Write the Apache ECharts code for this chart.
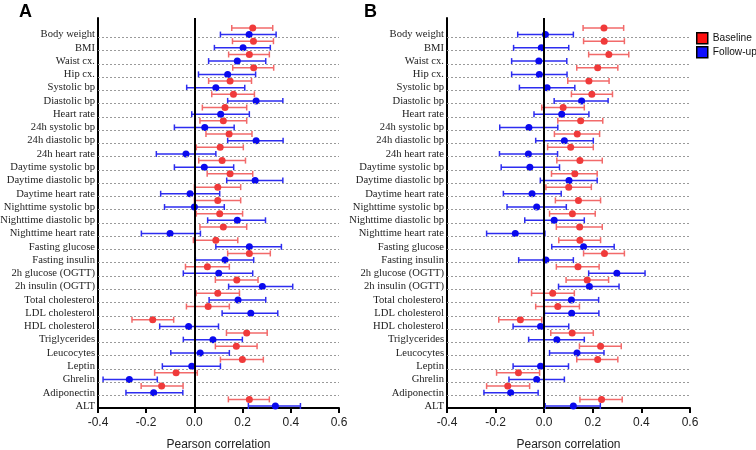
<!DOCTYPE html>
<html><head><meta charset="utf-8">
<script src="https://cdn.jsdelivr.net/npm/echarts@6/dist/echarts.min.js"></script>
<style>html,body{margin:0;padding:0;background:#fff}#c{width:756px;height:450px}</style>
</head><body><div id="c"></div>
<script>
const categories = ["Body weight","BMI","Waist cx.","Hip cx.","Systolic bp","Diastolic bp","Heart rate","24h systolic bp","24h diastolic bp","24h heart rate","Daytime systolic bp","Daytime diastolic bp","Daytime heart rate","Nighttime systolic bp","Nighttime diastolic bp","Nighttime heart rate","Fasting glucose","Fasting insulin","2h glucose (OGTT)","2h insulin (OGTT)","Total cholesterol","LDL cholesterol","HDL cholesterol","Triglycerides","Leucocytes","Leptin","Ghrelin","Adiponectin","ALT"];
const xTicks = [-0.4,-0.2,0.0,0.2,0.4,0.6];
const seriesNames = ["Baseline","Follow-up"];

// Panel A
const aBaseR  = [0.242,0.245,0.228,0.246,0.148,0.162,0.127,0.120,0.144,0.107,0.115,0.148,0.097,0.097,0.105,0.120,0.089,0.228,0.054,0.176,0.097,0.057,-0.173,0.217,0.174,0.199,-0.076,-0.136,0.228];
const aBaseLo = [0.155,0.158,0.142,0.159,0.059,0.072,0.033,0.023,0.048,0.008,0.018,0.053,0.000,0.000,0.008,0.023,-0.004,0.138,-0.037,0.087,0.007,-0.033,-0.259,0.133,0.087,0.108,-0.165,-0.221,0.141];
const aBaseHi = [0.325,0.328,0.311,0.329,0.237,0.249,0.217,0.217,0.239,0.203,0.212,0.242,0.192,0.192,0.200,0.217,0.180,0.315,0.145,0.264,0.187,0.145,-0.086,0.302,0.260,0.286,0.012,-0.047,0.311];
const aFolR   = [0.227,0.202,0.178,0.138,0.089,0.256,0.109,0.043,0.256,-0.035,0.041,0.252,-0.018,0.000,0.178,-0.101,0.228,0.127,0.101,0.282,0.181,0.234,-0.024,0.077,0.024,-0.011,-0.270,-0.169,0.336];
const aFolLo  = [0.108,0.083,0.059,0.017,-0.032,0.138,-0.011,-0.083,0.138,-0.158,-0.083,0.134,-0.140,-0.124,0.055,-0.220,0.089,0.004,-0.046,0.142,0.061,0.115,-0.144,-0.046,-0.098,-0.133,-0.379,-0.284,0.224];
const aFolHi  = [0.339,0.315,0.296,0.254,0.209,0.367,0.228,0.165,0.368,0.089,0.163,0.367,0.105,0.124,0.295,0.025,0.361,0.246,0.242,0.408,0.296,0.346,0.100,0.199,0.145,0.108,-0.154,-0.048,0.440];

// Panel B
const bBaseR  = [0.246,0.247,0.266,0.220,0.184,0.196,0.078,0.150,0.136,0.109,0.147,0.126,0.101,0.141,0.116,0.146,0.147,0.248,0.139,0.177,0.035,0.056,-0.098,0.115,0.232,0.220,-0.106,-0.150,0.236];
const bBaseLo = [0.160,0.162,0.183,0.134,0.097,0.112,-0.010,0.056,0.042,0.014,0.052,0.030,0.007,0.046,0.022,0.050,0.060,0.162,0.050,0.090,-0.052,-0.035,-0.187,0.027,0.145,0.134,-0.196,-0.237,0.147];
const bBaseHi = [0.327,0.330,0.348,0.303,0.267,0.281,0.165,0.241,0.228,0.202,0.239,0.218,0.194,0.232,0.210,0.239,0.232,0.330,0.226,0.265,0.124,0.145,-0.010,0.202,0.317,0.303,-0.019,-0.060,0.321];
const bFolR   = [0.005,-0.012,-0.022,-0.020,0.012,0.154,0.072,-0.063,0.083,-0.065,-0.059,0.102,-0.050,-0.031,0.041,-0.119,0.162,0.007,0.299,0.186,0.112,0.113,-0.015,0.052,0.135,-0.015,-0.031,-0.138,0.120];
const bFolLo  = [-0.109,-0.126,-0.134,-0.134,-0.102,0.041,-0.042,-0.183,-0.035,-0.184,-0.177,-0.016,-0.168,-0.153,-0.080,-0.237,0.031,-0.105,0.183,0.059,-0.001,0.001,-0.128,-0.064,0.022,-0.128,-0.145,-0.248,0.004];
const bFolHi  = [0.120,0.101,0.093,0.094,0.126,0.263,0.184,0.056,0.202,0.055,0.063,0.218,0.070,0.091,0.165,0.003,0.288,0.120,0.415,0.308,0.224,0.225,0.101,0.165,0.246,0.100,0.083,-0.025,0.231];

const RED = '#f03a3a', RED_BAR = '#f26a6a', BLUE = '#0a0aee', BLUE_BAR = '#2d2df0';
const serif = '"Liberation Serif","Times New Roman",serif';
const sans = '"Liberation Sans",Arial,sans-serif';

// row positions: baseline above label, follow-up at label
const rowBase = i => 2*i;
const rowFol = i => 2*i + 1;
const labelRows = categories.map((c,i)=>rowFol(i));
const gridRows = categories.map((c,i)=>rowFol(i)+0.4);

function barRenderer(color){
  return function(params, api){
    const y = api.value(2);
    const p1 = api.coord([api.value(0), y]);
    const p2 = api.coord([api.value(1), y]);
    const h = 3;
    const st = {stroke: color, lineWidth: 1.5};
    return {type:'group', children:[
      {type:'line', shape:{x1:p1[0],y1:p1[1],x2:p2[0],y2:p2[1]}, style:st},
      {type:'line', shape:{x1:p1[0],y1:p1[1]-h,x2:p1[0],y2:p1[1]+h}, style:st},
      {type:'line', shape:{x1:p2[0],y1:p2[1]-h,x2:p2[0],y2:p2[1]+h}, style:st}
    ]};
  };
}

const grids = [
  {left:98, right:417, top:18, bottom:42, containLabel:false, outerBoundsMode:'none'},
  {left:447, right:66, top:18, bottom:42, containLabel:false, outerBoundsMode:'none'}
];
const xAxes = grids.map((g,k)=>({
  type:'value', gridIndex:k, min:-0.4, max:0.6, interval:0.2,
  name:'Pearson correlation', nameLocation:'middle', nameGap:31,
  nameTextStyle:{fontFamily:sans, fontSize:12, color:'#222'},
  axisLine:{show:true, onZero:false, lineStyle:{color:'#000', width:2}},
  axisTick:{show:true, length:5, lineStyle:{color:'#000', width:2}},
  axisLabel:{fontFamily:sans, fontSize:12, color:'#222', margin:9,
    formatter:v=>v.toFixed(1), customValues: xTicks},
  splitLine:{show:false}
}));
const yAxes = grids.map((g,k)=>({
  type:'value', gridIndex:k, inverse:true, min:-1.5, max:57.3,
  axisLine:{show:true, onZero:false, lineStyle:{color:'#000', width:2}},
  axisTick:{show:false},
  splitLine:{show:false},
  axisLabel:{show:true, customValues: labelRows, fontFamily:serif, fontSize:10.6, color:'#222', margin:3,
    formatter: v => categories[Math.round((v-1)/2)] || ''}
}));

const series = [];
const panels = [
  {base:[aBaseR,aBaseLo,aBaseHi], fol:[aFolR,aFolLo,aFolHi]},
  {base:[bBaseR,bBaseLo,bBaseHi], fol:[bFolR,bFolLo,bFolHi]}
];
panels.forEach((p,k)=>{
  series.push({
    type:'line', xAxisIndex:k, yAxisIndex:k, data:[], silent:true,
    markLine:{silent:true, symbol:'none', animation:false, label:{show:false},
      lineStyle:{color:'#9a9a9a', type:[2,2], width:1},
      data: gridRows.map(r=>({yAxis:r}))}
  });
  series.push({
    type:'custom', xAxisIndex:k, yAxisIndex:k, silent:true, z:3,
    renderItem: barRenderer(RED_BAR), encode:{x:[0,1], y:2},
    data: categories.map((c,i)=>[p.base[1][i], p.base[2][i], rowBase(i)])
  });
  series.push({
    type:'custom', xAxisIndex:k, yAxisIndex:k, silent:true, z:3,
    renderItem: barRenderer(BLUE_BAR), encode:{x:[0,1], y:2},
    data: categories.map((c,i)=>[p.fol[1][i], p.fol[2][i], rowFol(i)])
  });
  series.push({
    name:seriesNames[0], type:'scatter', xAxisIndex:k, yAxisIndex:k, symbolSize:7, z:4,
    itemStyle:{color:RED, opacity:1},
    data: categories.map((c,i)=>[p.base[0][i], rowBase(i)])
  });
  series.push({
    name:seriesNames[1], type:'scatter', xAxisIndex:k, yAxisIndex:k, symbolSize:7, z:4,
    itemStyle:{color:BLUE, opacity:1},
    data: categories.map((c,i)=>[p.fol[0][i], rowFol(i)])
  });
  series.push({
    type:'line', xAxisIndex:k, yAxisIndex:k, data:[], silent:true, z:5,
    markLine:{silent:true, symbol:'none', animation:false, label:{show:false},
      lineStyle:{color:'#000', type:'solid', width:2},
      data:[{xAxis:0}]}
  });
});

const chart = echarts.init(document.getElementById('c'), null, {renderer:'canvas'});
chart.setOption({
  animation:false,
  backgroundColor:'#fff',
  grid: grids,
  xAxis: xAxes,
  yAxis: yAxes,
  legend:{
    data:[{name:'Baseline', itemStyle:{color:'#ff1010'}},{name:'Follow-up', itemStyle:{color:'#1010ff'}}],
    orient:'vertical', left:691, top:27, itemWidth:11, itemHeight:11, itemGap:1.5, itemTextGap:4,
    icon:'rect', selectedMode:false,
    itemStyle:{borderColor:'#000', borderWidth:1.5},
    textStyle:{fontFamily:sans, fontSize:10.2, color:'#111'}
  },
  graphic:[
    {type:'text', left:19, top:3, style:{text:'A', font:'bold 18px "Liberation Sans", Arial, sans-serif', fill:'#000'}},
    {type:'text', left:364, top:3, style:{text:'B', font:'bold 18px "Liberation Sans", Arial, sans-serif', fill:'#000'}}
  ],
  series: series
});
</script>
</body></html>
